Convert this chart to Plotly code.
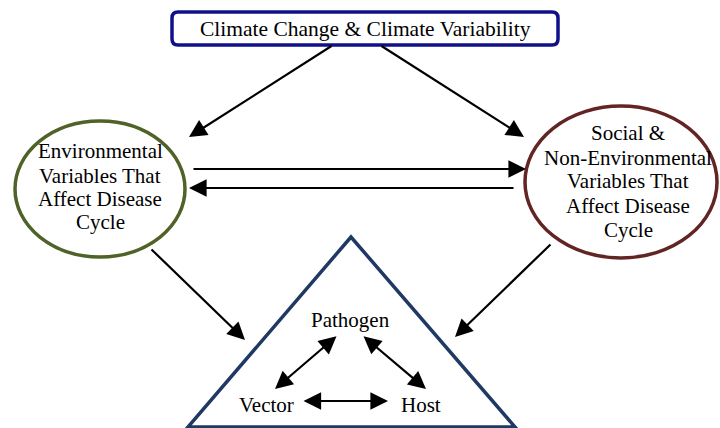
import plotly.graph_objects as go

# ---- diagram content ----
title_label = "Climate Change & Climate Variability"
env_lines = ["Environmental", "Variables That", "Affect Disease", "Cycle"]
soc_lines = ["Social &", "Non-Environmental", "Variables That", "Affect Disease", "Cycle"]
triad_labels = ["Pathogen", "Vector", "Host"]

# node geometry (pixel space, y downward)
box = dict(x0=172, x1=558, y0=12, y1=45)
env_ell = dict(cx=100, cy=189, rx=85, ry=68)
soc_ell = dict(cx=621, cy=182, rx=96, ry=76)
tri = [(351, 237), (188, 427), (515, 427)]

env_text_x, env_baselines = 100, [158, 183, 206, 229]
soc_text_x, soc_baselines = 628, [140, 165, 188, 213, 237]
triad_pos = [(350, 327), (266, 412), (421, 412)]

# arrows: (tail_x, tail_y, head_x, head_y, double)
arrows = [
    (333, 45, 189, 137, False),
    (380, 45, 524, 137, False),
    (192, 169, 526, 169, False),
    (515, 188, 189, 188, False),
    (150, 248, 245, 340, False),
    (552, 243, 455, 337, False),
    (338, 335, 275, 389, True),
    (362, 335, 426, 389, True),
    (302, 401, 388, 401, True),
]

FONT = dict(family="Liberation Serif, Times New Roman, serif", size=21, color="black")

fig = go.Figure()
fig.add_trace(go.Scatter(x=[0, 720], y=[0, 428], mode="markers",
                         marker=dict(opacity=0), hoverinfo="skip", showlegend=False))

shapes = []
# rounded rectangle
r = 6
x0, x1, y0, y1 = box["x0"], box["x1"], box["y0"], box["y1"]
path = (f"M{x0+r},{y0} L{x1-r},{y0} Q{x1},{y0} {x1},{y0+r} L{x1},{y1-r} Q{x1},{y1} {x1-r},{y1} "
        f"L{x0+r},{y1} Q{x0},{y1} {x0},{y1-r} L{x0},{y0+r} Q{x0},{y0} {x0+r},{y0} Z")
shapes.append(dict(type="path", path=path, line=dict(color="#10108C", width=3.5),
                   fillcolor="white", xref="x", yref="y"))
for e, col in [(env_ell, "#4F6228"), (soc_ell, "#632523")]:
    shapes.append(dict(type="circle", xref="x", yref="y",
                       x0=e["cx"]-e["rx"], x1=e["cx"]+e["rx"],
                       y0=e["cy"]-e["ry"], y1=e["cy"]+e["ry"],
                       line=dict(color=col, width=3.5)))
tp = f"M{tri[0][0]},{tri[0][1]} L{tri[1][0]},{tri[1][1]} L{tri[2][0]},{tri[2][1]} Z"
shapes.append(dict(type="path", path=tp, line=dict(color="#1F3864", width=3.5), xref="x", yref="y"))

ann = []
def txt(x, baseline, s, size=21):
    f = dict(FONT, size=size)
    ann.append(dict(x=x, y=baseline - 7, text=s, showarrow=False, xref="x", yref="y",
                    xanchor="center", yanchor="middle", font=f))

txt(365, 36, title_label, 21.5)
for s, b in zip(env_lines, env_baselines):
    txt(env_text_x, b, s)
for s, b in zip(soc_lines, soc_baselines):
    txt(soc_text_x, b, s)
for s, (x, b) in zip(triad_labels, triad_pos):
    txt(x, b, s)

for tx, ty, hx, hy, dbl in arrows:
    ann.append(dict(x=hx, y=hy, ax=tx, ay=ty, xref="x", yref="y", axref="x", ayref="y",
                    text="", showarrow=True, arrowhead=2, arrowsize=1.6, arrowwidth=2.2,
                    arrowcolor="black", arrowside="end+start" if dbl else "end",
                    startarrowhead=2, startarrowsize=1.6))

fig.update_layout(
    width=720, height=428, margin=dict(l=0, r=0, t=0, b=0),
    paper_bgcolor="white", plot_bgcolor="white",
    xaxis=dict(range=[0, 720], visible=False, fixedrange=True),
    yaxis=dict(range=[428, 0], visible=False, fixedrange=True),
    shapes=shapes, annotations=ann, showlegend=False,
)
fig.write_html("out.html", config={"displayModeBar": False},
               post_script="document.body.style.margin='0';document.body.style.overflow='hidden';")
